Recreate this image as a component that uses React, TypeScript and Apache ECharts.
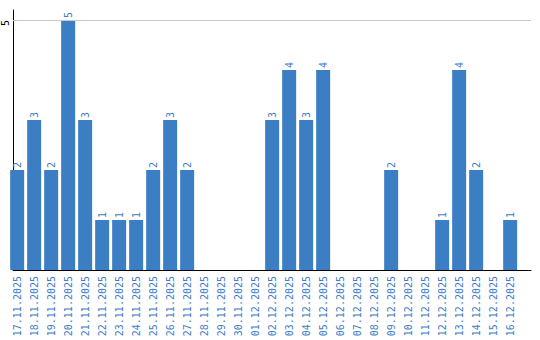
import React, { useEffect, useRef } from "react";
import * as echarts from "echarts";

const categories = [
  "17.11.2025", "18.11.2025", "19.11.2025", "20.11.2025", "21.11.2025",
  "22.11.2025", "23.11.2025", "24.11.2025", "25.11.2025", "26.11.2025",
  "27.11.2025", "28.11.2025", "29.11.2025", "30.11.2025", "01.12.2025",
  "02.12.2025", "03.12.2025", "04.12.2025", "05.12.2025", "06.12.2025",
  "07.12.2025", "08.12.2025", "09.12.2025", "10.12.2025", "11.12.2025",
  "12.12.2025", "13.12.2025", "14.12.2025", "15.12.2025", "16.12.2025",
];
const values = [2, 3, 2, 5, 3, 1, 1, 1, 2, 3, 2, 0, 0, 0, 0, 3, 4, 3, 4, 0, 0, 0, 2, 0, 0, 1, 4, 2, 0, 1];
const yMax = 5.2;
const gridValue = 5;

const BAR = "#3c7ec4";
const TEXT = "#3d7cc8";
const FONT = "DejaVu Sans Mono";

export default function App() {
  const ref = useRef<HTMLDivElement>(null);
  useEffect(() => {
    if (!ref.current) return;
    const chart = echarts.init(ref.current, undefined, { renderer: "svg" });
    chart.setOption({
      animation: false,
      grid: [
        { left: 10, top: 10, width: 521, height: 260 },
        { left: 8.65, top: 10, width: 510, height: 260 },
      ],
      xAxis: [
        {
          gridIndex: 0,
          type: "value",
          min: 0,
          max: 1,
          axisLine: { show: true, lineStyle: { color: "#000", width: 1 } },
          axisTick: { show: false },
          axisLabel: { show: false },
          splitLine: { show: false },
        },
        {
          gridIndex: 1,
          type: "category",
          data: categories,
          axisLine: { show: false },
          axisTick: { show: false },
          axisLabel: {
            rotate: 90,
            interval: 0,
            margin: 6,
            color: TEXT,
            fontFamily: FONT,
            fontSize: 10,
          },
        },
      ],
      yAxis: [
        {
          gridIndex: 0,
          type: "value",
          min: 0,
          max: yMax,
          interval: 5,
          axisLine: { show: true, lineStyle: { color: "#000", width: 1 } },
          axisTick: { show: false },
          splitLine: { show: false },
          axisLabel: {
            rotate: 90,
            margin: 3,
            align: "right",
            verticalAlign: "bottom",
            color: "#000",
            fontFamily: FONT,
            fontSize: 10,
            formatter: (v: number) => (v === gridValue ? String(v) : ""),
          },
        },
        {
          gridIndex: 1,
          type: "value",
          min: 0,
          max: yMax,
          show: false,
        },
      ],
      series: [
        {
          type: "line",
          xAxisIndex: 0,
          yAxisIndex: 0,
          data: [],
          silent: true,
          markLine: {
            silent: true,
            symbol: "none",
            label: { show: false },
            lineStyle: { color: "#c8c8c8", width: 1, type: "solid" },
            data: [{ yAxis: gridValue }],
          },
          z: 1,
        },
        {
          type: "bar",
          xAxisIndex: 1,
          yAxisIndex: 1,
          data: values,
          barWidth: 14,
          itemStyle: { color: BAR },
          z: 2,
          label: {
            show: true,
            position: "top",
            rotate: 90,
            align: "left",
            verticalAlign: "middle",
            distance: 2,
            color: TEXT,
            fontFamily: FONT,
            fontSize: 10,
            formatter: (p: any) => (p.value ? String(p.value) : ""),
          },
        },
      ],
    });
    return () => chart.dispose();
  }, []);
  return (
    <div
      ref={ref}
      style={{ position: "fixed", left: 0, top: 0, width: 540, height: 340, background: "#fff" }}
    />
  );
}
